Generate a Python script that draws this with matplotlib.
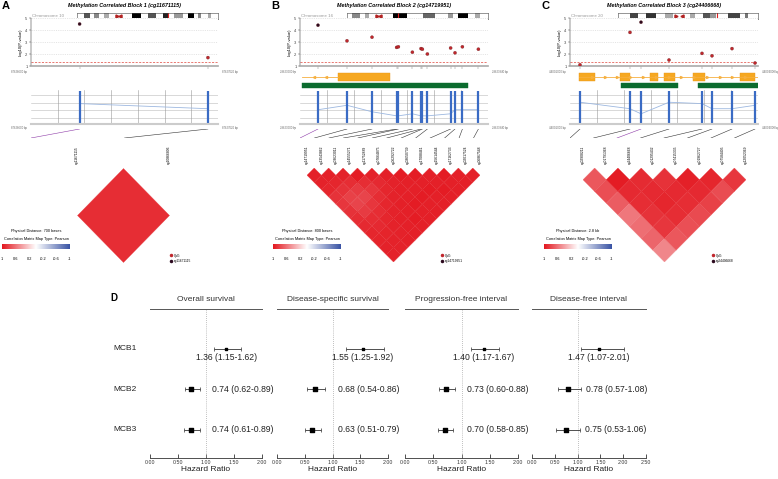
import numpy as np
import matplotlib.pyplot as plt
from matplotlib.colors import LinearSegmentedColormap
from matplotlib.collections import PolyCollection
from matplotlib.lines import Line2D

plt.rcParams['font.family'] = ['Liberation Sans', 'DejaVu Sans']

# ---------------- data: methylation correlated blocks ----------------
titles = ['Methylation Correlated Block 1 (cg11671115)',
          'Methylation Correlated Block 2 (cg14719951)',
          'Methylation Correlated Block 3 (cg24406668)']
chrom_names = ['Chromosome 10', 'Chromosome 16', 'Chromosome 20']
phys_dist = ['700 bases', '800 bases', '2.8 kb']
ref_probes = ['cg11671115', 'cg14719951', 'cg24406668']
reg_start = [87626600, 29623000, 44001000]
reg_end = [87627620, 29623940, 44004008]

probes_a = ['cg11671115', 'cg10866806']
pos_a = [87626865, 87627565]
logp_a = [4.5, 1.7]
level_a = [0.6, 0.45]
corr_a = [[0.9]]

probes_b = ['cg14719951', 'cg13543862', 'cg03623011', 'cg14555271', 'cg11752889',
            'cg07664875', 'cg06292722', 'cg08650739', 'cg17088461', 'cg15614544',
            'cg17162733', 'cg02017524', 'cg06867548']
pos_b = [29623090, 29623235, 29623360, 29623483, 29623492, 29623562, 29623605,
         29623612, 29623637, 29623753, 29623775, 29623812, 29623892]
logp_b = [4.4, 3.1, 3.4, 2.55, 2.6, 2.15, 2.45, 2.4, 2.0, 2.5, 2.1, 2.6, 2.4]
level_b = [0.42, 0.55, 0.36, 0.24, 0.24, 0.3, 0.24, 0.24, 0.24, 0.3, 0.42, 0.42, 0.42]
corr_b = [
    [0.96, 0.95, 0.93, 0.88, 0.86, 0.88, 0.90, 0.92, 0.93, 0.94, 0.95, 0.95],
    [0.96, 0.93, 0.88, 0.82, 0.80, 0.84, 0.90, 0.92, 0.94, 0.95, 0.95],
    [0.95, 0.90, 0.84, 0.80, 0.86, 0.90, 0.93, 0.95, 0.95, 0.96],
    [0.97, 0.90, 0.86, 0.90, 0.93, 0.95, 0.96, 0.96, 0.96],
    [0.95, 0.92, 0.93, 0.95, 0.96, 0.96, 0.97, 0.96],
    [0.96, 0.95, 0.96, 0.96, 0.97, 0.96, 0.96],
    [0.97, 0.96, 0.96, 0.97, 0.96, 0.96],
    [0.97, 0.96, 0.97, 0.96, 0.96],
    [0.96, 0.96, 0.97, 0.96],
    [0.97, 0.96, 0.96],
    [0.96, 0.96],
    [0.96],
]

probes_c = ['cg02908211', 'cg01791368', 'cg24406668', 'cg01295432', 'cg07415335',
            'cg01962727', 'cg07584405', 'cg12052369']
pos_c = [44001160, 44001960, 44002136, 44002584, 44003112, 44003272, 44003592, 44003960]
logp_c = [1.1, 3.8, 4.65, 1.5, 2.05, 1.85, 2.45, 1.25]
level_c = [0.64, 0.45, 0.3, 0.64, 0.6, 0.45, 0.45, 0.55]
corr_c = [
    [0.72, 0.76, 0.70, 0.58, 0.62, 0.66, 0.52],
    [0.97, 0.92, 0.90, 0.88, 0.86, 0.72],
    [0.91, 0.92, 0.93, 0.90, 0.75],
    [0.88, 0.92, 0.90, 0.78],
    [0.96, 0.92, 0.82],
    [0.93, 0.77],
    [0.86],
]

# gene tracks (B and C): transcript line, exons, CpG islands
gene_line_b = (29623010, 29623190)
exons_b = [(29623190, 29623450)]
islands_b = [(29623010, 29623840)]
gene_line_c = (44001144, 44004008)
exons_c = [(44001144, 44001400), (44001800, 44001960), (44002280, 44002408),
           (44002504, 44002680), (44002968, 44003160), (44003720, 44003960)]
islands_c = [(44001816, 44002728), (44003048, 44004008)]

# chromosome ideograms: (relative width, colour), 'cen' = centromere
ideo_a = [(20, 'w'), (18, '#555'), (12, 'w'), (15, '#888'), (15, 'w'), (15, '#aaa'), (20, 'w'),
          (17, 'cen'), (33, 'w'), (25, '#000'), (20, 'w'), (25, '#555'), (20, 'w'), (15, '#222'),
          (20, 'w'), (25, '#999'), (15, 'w'), (20, '#000'), (10, 'w'), (10, '#888'), (20, 'w'),
          (10, '#aaa'), (20, 'w')]
ideo_b = [(15, 'w'), (25, '#888'), (15, 'w'), (10, '#aaa'), (20, 'w'), (20, 'cen'), (35, 'w'),
          (40, '#000'), (50, 'w'), (35, '#666'), (40, 'w'), (15, '#999'), (15, 'w'), (30, '#000'),
          (20, 'w'), (15, '#aaa'), (25, 'w')]
ideo_c = [(35, 'w'), (25, '#444'), (25, 'w'), (30, '#333'), (25, 'w'), (25, '#aaa'), (35, 'cen'),
          (15, 'w'), (15, '#aaa'), (25, 'w'), (20, '#555'), (20, '#999'), (35, 'w'), (35, '#444'),
          (15, 'w'), (10, '#777'), (30, 'w')]
ideo_mark = [0.643, 0.365, 0.707]

# ---------------- data: forest plot ----------------
outcomes = ['Overall survival', 'Disease-specific survival',
            'Progression-free interval', 'Disease-free interval']
blocks = ['MCB1', 'MCB2', 'MCB3']
hr = [[1.36, 0.74, 0.74], [1.55, 0.68, 0.63], [1.40, 0.73, 0.70], [1.47, 0.78, 0.75]]
ci_lo = [[1.15, 0.62, 0.61], [1.25, 0.54, 0.51], [1.17, 0.60, 0.58], [1.07, 0.57, 0.53]]
ci_hi = [[1.62, 0.89, 0.89], [1.92, 0.86, 0.79], [1.67, 0.88, 0.85], [2.01, 1.08, 1.06]]
hr_max = [2.0, 2.0, 2.0, 2.5]

W, H = 778, 479
fig = plt.figure(figsize=(W / 100, H / 100), dpi=100)


def add_ax(x0, y0, x1, y1):
    # box given in pixels from the top-left corner
    return fig.add_axes([x0 / W, 1 - y1 / H, (x1 - x0) / W, (y1 - y0) / H])


cmap = LinearSegmentedColormap.from_list('corr', ['#3953A4', '#FFFFFF', '#E3171F'])
RED, DARK, BLUE = '#C0272D', '#2D0A1F', '#3A6BC4'

panels = [
    dict(probes=probes_a, pos=pos_a, logp=logp_a, level=level_a, corr=corr_a, ideo=ideo_a,
         gene=None, ax0=31, ax1=218, ideo0=77, heat=(77, 169), leg=36, cb=(2, 70), sl=168, ref=0),
    dict(probes=probes_b, pos=pos_b, logp=logp_b, level=level_b, corr=corr_b, ideo=ideo_b,
         gene=(gene_line_b, exons_b, islands_b, '<'), ax0=300, ax1=488, ideo0=347,
         heat=(307, 480), leg=307, cb=(273, 341), sl=439, ref=0),
    dict(probes=probes_c, pos=pos_c, logp=logp_c, level=level_c, corr=corr_c, ideo=ideo_c,
         gene=(gene_line_c, exons_c, islands_c, '>'), ax0=570, ax1=758, ideo0=618,
         heat=(583, 746), leg=578, cb=(544, 612), sl=710, ref=2),
]

for p_i, p in enumerate(panels):
    start, end = reg_start[p_i], reg_end[p_i]
    pos = np.array(p['pos'])
    n = len(pos)
    x0, x1 = p['ax0'], p['ax1']
    colors = [DARK if k == p['ref'] else RED for k in range(n)]

    fig.text((x0 - 29) / W, 1 - 6 / H, 'ABC'[p_i], fontsize=8, fontweight='bold', va='center')
    fig.text((x0 + x1) / 2 / W, 1 - 6 / H, titles[p_i], fontsize=3.9, fontweight='bold',
             fontstyle='italic', ha='center', va='center')

    # ideogram
    ax = add_ax(p['ideo0'], 13, x1, 19)
    widths = np.array([b[0] for b in p['ideo']], float)
    lefts = np.concatenate([[0], np.cumsum(widths)[:-1]]) / widths.sum()
    widths = widths / widths.sum()
    for l, w_, (_, c) in zip(lefts, widths, p['ideo']):
        if c == 'cen':
            ax.barh(0, w_, left=l, height=1, color='white')
            ax.plot([l + w_ * 0.25], [0], marker='>', ms=2.2, color='#B22222')
            ax.plot([l + w_ * 0.75], [0], marker='<', ms=2.2, color='#B22222')
        else:
            ax.barh(0, w_, left=l, height=1, color='white' if c == 'w' else c)
    ax.axvline(ideo_mark[p_i], color='#E02020', lw=0.8)
    ax.set_xlim(0, 1)
    ax.set_ylim(-0.5, 0.5)
    ax.set_xticks([])
    ax.set_yticks([])
    for s in ax.spines.values():
        s.set_linewidth(0.4)
        s.set_color('#444')
    fig.text((x0 + 1) / W, 1 - 16 / H, chrom_names[p_i], fontsize=3.2, color='#999', va='center')

    # -log10 p scatter
    ax = add_ax(x0, 18, x1, 66)
    ax.scatter(pos, p['logp'], s=5, c=colors, edgecolors='#5A1010', linewidths=0.2, zorder=3)
    ax.axhline(-np.log10(0.05), color='#E0443A', ls=(0, (3, 2)), lw=0.5)
    ax.set_xlim(start, end)
    ax.set_ylim(1, 5)
    ax.set_yticks([1, 2, 3, 4, 5])
    ax.yaxis.grid(True, ls=(0, (2, 2)), color='#d0d0d0', lw=0.4)
    ax.set_xticks(pos)
    ax.set_xticklabels([])
    ax.tick_params(axis='x', length=2, width=0.3, color='#777')
    ax.tick_params(axis='y', length=1.5, width=0.3, labelsize=3, pad=1, colors='#444')
    for s in ['top', 'right']:
        ax.spines[s].set_visible(False)
    ax.spines['left'].set_linewidth(0.3)
    ax.spines['bottom'].set_color('#aaa')
    ax.spines['bottom'].set_linewidth(1.2)
    ax.set_ylabel('-log10(P-value)', fontsize=2.9, labelpad=2)
    ax.text(-0.02, -0.08, f'{start} bp', transform=ax.transAxes, ha='right', va='top',
            fontsize=2, color='#666')
    ax.text(1.02, -0.08, f'{end} bp', transform=ax.transAxes, ha='left', va='top',
            fontsize=2, color='#666')

    # gene / CpG island track
    if p['gene'] is not None:
        line, exons, islands, arrow = p['gene']
        ax = add_ax(x0, 70, x1, 90)
        ax.plot(line, [0.65, 0.65], color='#F6B040', lw=0.6)
        chev = np.linspace(line[0], line[1], max(2, int((line[1] - line[0]) / (end - start) * 14)) + 2)[1:-1]
        ax.plot(chev, np.full(len(chev), 0.65), ls='', marker=arrow, ms=1.5, color='#F6B040')
        for e0, e1 in exons:
            ax.bar(e0, 0.4, width=e1 - e0, bottom=0.45, align='edge', color='#F6A821',
                   edgecolor='#E8961A', linewidth=0.3)
        for c0, c1 in islands:
            ax.bar(c0, 0.25, width=c1 - c0, bottom=0.08, align='edge', color='#0B6B2E',
                   edgecolor='#0B6B2E', linewidth=0.3)
        ax.set_xlim(start, end)
        ax.set_ylim(0, 1)
        ax.axis('off')

    # correlation / methylation track
    ax = add_ax(x0, 90, x1, 124)
    for yy in [0.18, 0.41, 0.62, 0.85]:
        ax.axhline(yy, color='#bbb', lw=0.4)
    for xx in np.linspace(start, end, 8)[1:-1]:
        ax.axvline(xx, color='#999', lw=0.4)
    ax.plot(pos, p['level'], color='#9DB8E0', lw=0.6)
    ax.vlines(pos, 0.04, 0.98, color=BLUE, lw=1.6)
    ax.set_xlim(start, end)
    ax.set_ylim(0, 1)
    ax.set_xticks([])
    ax.set_yticks([])
    for s in ['top', 'right', 'left']:
        ax.spines[s].set_visible(False)
    ax.spines['bottom'].set_color('#ccc')
    ax.spines['bottom'].set_linewidth(1.5)
    ax.text(-0.02, -0.06, f'{start} bp', transform=ax.transAxes, ha='right', va='top',
            fontsize=2, color='#666')
    ax.text(1.02, -0.06, f'{end} bp', transform=ax.transAxes, ha='left', va='top',
            fontsize=2, color='#666')

    # connectors from genomic position to heatmap order
    ax = add_ax(x0, 129, x1, 138)
    for k, xp in enumerate(pos):
        ax.plot([xp, start + k * (end - start) / n], [1, 0],
                color='#8E3BA8' if k == p['ref'] else '#333', lw=0.4)
    ax.set_xlim(start, end)
    ax.set_ylim(0, 1)
    ax.axis('off')

    # correlation heatmap (rotated upper triangle)
    hx0, hx1 = p['heat']
    ax = add_ax(hx0, 168, hx1, 262)
    verts, vals = [], []
    for i, row in enumerate(p['corr']):
        for k, v in enumerate(row):
            j = i + 1 + k
            cx, cy = (i + j) / 2, -(j - i) / 2
            verts.append([(cx - .5, cy), (cx, cy + .5), (cx + .5, cy), (cx, cy - .5)])
            vals.append(v)
    pc = PolyCollection(verts, array=np.array(vals), cmap=cmap, edgecolor='face', linewidth=0.2)
    pc.set_clim(-1, 1)
    ax.add_collection(pc)
    ax.set_xlim(0, n - 1)
    ax.set_ylim(-n / 2, 0)
    ax.axis('off')
    for k, name in enumerate(p['probes']):
        ax.annotate(name, (k, 0), xytext=(0, 3), textcoords='offset points', rotation=90,
                    ha='center', va='bottom', fontsize=2.4, annotation_clip=False)

    # legend block
    fig.text(p['leg'] / W, 1 - 231 / H, f'Physical Distance: {phys_dist[p_i]}', fontsize=2.8,
             ha='center', va='center')
    fig.text(p['leg'] / W, 1 - 239 / H, 'Correlation Matrix Map Type: Pearson', fontsize=2.8,
             ha='center', va='center')
    cb0, cb1 = p['cb']
    ax = add_ax(cb0, 244, cb1, 249)
    ax.imshow(np.linspace(1, -1, 256)[None, :], cmap=cmap, vmin=-1, vmax=1, aspect='auto',
              extent=[1, -1, 0, 1])
    ax.set_xlim(1, -1)
    ax.set_xticks([1, 0.6, 0.2, -0.2, -0.6, -1])
    ax.set_xticklabels(['1', '0.6', '0.2', '-0.2', '-0.6', '-1'])
    ax.tick_params(axis='x', length=0, labelsize=2.8, pad=6)
    ax.set_yticks([])
    for s in ax.spines.values():
        s.set_visible(False)

    ax = add_ax(p['sl'], 252, p['sl'] + 45, 265)
    ax.axis('off')
    ax.legend(handles=[Line2D([], [], marker='o', ls='', color=RED, ms=1.5, label='CpG'),
                       Line2D([], [], marker='o', ls='', color=DARK, ms=1.5, label=ref_probes[p_i])],
              loc='upper left', frameon=False, fontsize=2.3, borderpad=0, handletextpad=0.6,
              labelspacing=0.5, handlelength=0.6)

# ---------------- forest plot ----------------
fig.text(110 / W, 1 - 298 / H, 'D', fontsize=7, fontweight='bold', va='center')
boxes = [(150, 262), (277, 388), (405, 518), (532, 646)]
rows = np.arange(1, 4)
for o_i, (bx0, bx1) in enumerate(boxes):
    ax = add_ax(bx0, 309, bx1, 458)
    h = np.array(hr[o_i])
    lo = np.array(ci_lo[o_i])
    hi = np.array(ci_hi[o_i])
    ax.axvline(1, color='#aaa', ls=(0, (1, 1.5)), lw=0.6)
    ax.errorbar(h, rows, xerr=[h - lo, hi - h], fmt='none', ecolor='#333', elinewidth=0.6,
                capsize=1.5, capthick=0.5)
    ax.scatter(h[:1], rows[:1], marker='s', s=1, color='black', zorder=3)
    ax.scatter(h[1:], rows[1:], marker='s', s=11, color='black', zorder=3)
    for r in range(3):
        lab = f'{h[r]:.2f} ({lo[r]:.2f}-{hi[r]:.2f})'
        if r == 0:
            ax.annotate(lab, (h[r], rows[r]), xytext=(0, -6.5), textcoords='offset points',
                        ha='center', va='center', fontsize=6.2, color='#222')
        else:
            ax.text(max(1.1, hi[r] + 0.1), rows[r], lab, ha='left', va='center',
                    fontsize=6.2, color='#222')
    ax.set_xlim(0, hr_max[o_i])
    ax.set_ylim(3.7, 0.02)
    ticks = np.arange(0, hr_max[o_i] + 0.01, 0.5)
    ax.set_xticks(ticks)
    ax.set_xticklabels([f'{t:.2f}' for t in ticks])
    ax.set_yticks([])
    ax.tick_params(axis='x', direction='in', length=3, width=0.6, labelsize=3.8, pad=1.5,
                   colors='#333')
    ax.set_xlabel('Hazard Ratio', fontsize=6, labelpad=0.5, color='#222')
    ax.set_title(outcomes[o_i], fontsize=6, pad=6, color='#333')
    ax.spines['left'].set_visible(False)
    ax.spines['right'].set_visible(False)
    ax.spines['top'].set_color('#555')
    ax.spines['top'].set_linewidth(0.7)
    ax.spines['bottom'].set_color('#333')
    ax.spines['bottom'].set_linewidth(0.6)
    if o_i == 0:
        for r, b in enumerate(blocks):
            ax.text(-0.33, rows[r], b, transform=ax.get_yaxis_transform(), ha='left',
                    va='center', fontsize=6, color='#222')

fig.savefig('out.png', dpi=100)
